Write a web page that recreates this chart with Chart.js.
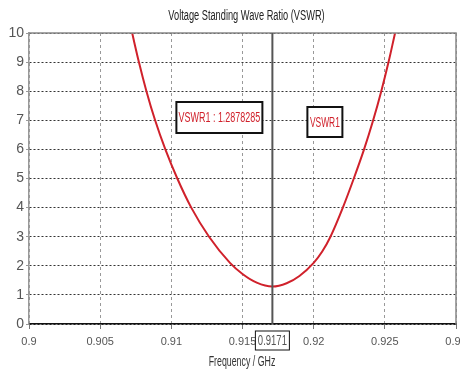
<!DOCTYPE html>
<html>
<head>
<meta charset="utf-8">
<script src="https://cdn.jsdelivr.net/npm/chart.js@4/dist/chart.umd.min.js"></script>
<style>
  html, body { margin: 0; padding: 0; background: #fff; }
</style>
</head>
<body>
<canvas id="myChart" width="460" height="370"></canvas>
<script>
// values
const freqs = [0.9069, 0.90725, 0.90772, 0.90825, 0.90886, 0.90958, 0.91042, 0.9114, 0.91265,
  0.91412, 0.915, 0.916, 0.9171, 0.9181, 0.919, 0.92, 0.9206, 0.92118, 0.92205, 0.92282,
  0.92354, 0.92418, 0.92475, 0.92526, 0.92572, 0.9261];
const vswr = [10.8, 10, 9, 8, 7, 6, 5, 4, 3, 2.1, 1.72, 1.42, 1.2878285, 1.4, 1.65, 2.1, 2.49, 3, 4, 5,
  6, 7, 8, 9, 10, 10.8];
const xTicks = [0.9, 0.905, 0.91, 0.915, 0.92, 0.925, 0.93];
const markerFreq = 0.9171;
const markerValue = 1.2878285;
const markerName = 'VSWR1';
const chartTitle = 'Voltage Standing Wave Ratio (VSWR)';
const xTitle = 'Frequency / GHz';

const FAMILY = '"Liberation Sans", Arial, sans-serif';
const RED = '#d0212b';

let points = freqs.map((f, i) => ({ x: f, y: vswr[i] }));

// narrow text: the original uses a condensed face we don't have
function narrowText(ctx, txt, x, y, size, color, sx) {
  ctx.save();
  ctx.font = size + 'px ' + FAMILY;
  ctx.fillStyle = color;
  ctx.textAlign = 'center';
  ctx.textBaseline = 'middle';
  ctx.translate(x, y);
  ctx.scale(sx, 1);
  ctx.fillText(txt, 0, 0);
  ctx.restore();
}

// frame, marker line, labels, titles
const markerPlugin = {
  id: 'marker',
  afterDraw(chart) {
    let ctx = chart.ctx, xs = chart.scales.x, a = chart.chartArea;
    let px = xs.getPixelForValue(markerFreq);
    let cx = (a.left + a.right) / 2;
    ctx.save();
    ctx.strokeStyle = '#888';
    ctx.lineWidth = 1.5;
    ctx.beginPath();
    ctx.moveTo(a.left, a.top);
    ctx.lineTo(a.right, a.top);
    ctx.lineTo(a.right, a.bottom);
    ctx.stroke();

    ctx.strokeStyle = '#555';
    ctx.lineWidth = 2;
    ctx.beginPath();
    ctx.moveTo(px, a.top);
    ctx.lineTo(px, a.bottom);
    ctx.stroke();

    function box(x, y, w, h, txt, color, lw, sx) {
      ctx.fillStyle = '#fff';
      ctx.fillRect(x, y, w, h);
      ctx.strokeStyle = '#111';
      ctx.lineWidth = lw;
      ctx.strokeRect(x, y, w, h);
      narrowText(ctx, txt, x + w / 2, y + h / 2 + 1, 14, color, sx);
    }
    box(px - 96, 102, 86, 31, markerName + ' : ' + markerValue, RED, 2, 0.64);
    box(px + 35, 107, 35, 30, markerName, RED, 2, 0.6);
    box(px - 17, 331, 34, 19, String(markerFreq), '#555', 1, 0.68);

    narrowText(ctx, chartTitle, cx + 4, 16, 14, '#222', 0.66);
    narrowText(ctx, xTitle, 242, 362, 14, '#333', 0.63);
    ctx.restore();
  }
};

const config = {
  type: 'scatter',
  data: {
    datasets: [{
      data: points,
      showLine: true,
      borderColor: RED,
      borderWidth: 2,
      pointRadius: 0,
      cubicInterpolationMode: 'monotone',
      fill: false
    }]
  },
  options: {
    responsive: false,
    animation: false,
    layout: { padding: { left: 0, right: 4, top: 33, bottom: 0 } },
    plugins: {
      legend: { display: false },
      tooltip: { enabled: false },
      title: { display: false }
    },
    scales: {
      x: {
        type: 'linear',
        min: 0.9,
        max: 0.93,
        afterBuildTicks: s => { s.ticks = xTicks.map(v => ({ value: v })); },
        afterFit: s => {
          s.height = 46;
          // let the last label run off the edge like the original
          s.paddingLeft = 0;
          s.paddingRight = 0;
        },
        // in v4 border.dash styles the grid lines
        border: { display: true, color: '#111', width: 1.5, dash: [3, 3] },
        grid: { color: '#999', lineWidth: 1, tickLength: 5, tickColor: '#777' },
        ticks: {
          color: '#555',
          padding: 6,
          font: { family: FAMILY, size: 11 },
          callback: v => String(Math.round(v * 1000) / 1000)
        }
      },
      y: {
        min: 0,
        max: 10,
        afterFit: s => { s.width = 29; },
        border: { display: true, color: '#999', width: 1.5, dash: [2, 2] },
        grid: { color: '#333', lineWidth: 1, tickLength: 3, tickColor: '#999' },
        ticks: {
          stepSize: 1,
          color: '#555',
          padding: 2,
          font: { family: FAMILY, size: 14 }
        }
      }
    }
  },
  plugins: [markerPlugin]
};

const myChart = new Chart(document.getElementById('myChart'), config);
</script>
</body>
</html>
